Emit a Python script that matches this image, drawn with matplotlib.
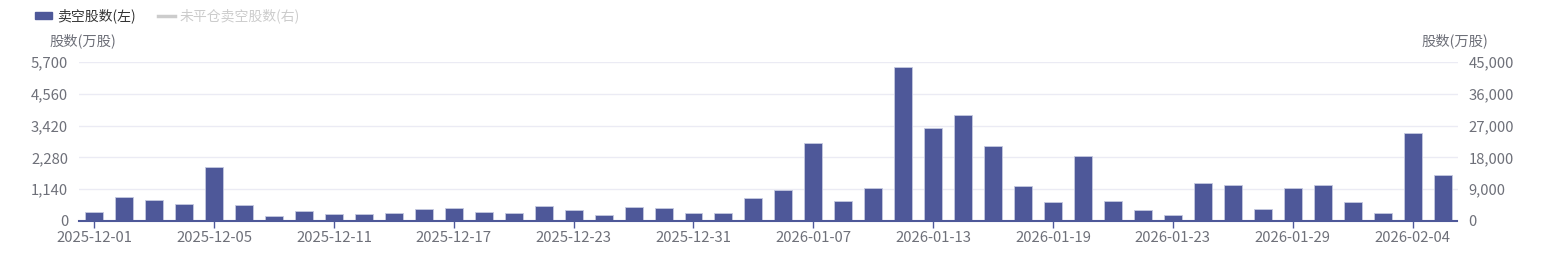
import matplotlib
matplotlib.use("Agg")
import matplotlib.pyplot as plt
from matplotlib.patches import Rectangle
from matplotlib.lines import Line2D
import numpy as np

plt.rcParams['font.family'] = ['Noto Sans CJK SC', 'DejaVu Sans']

dates = [
    '2025-12-01', '2025-12-02', '2025-12-03', '2025-12-04', '2025-12-05',
    '2025-12-08', '2025-12-09', '2025-12-10', '2025-12-11', '2025-12-12',
    '2025-12-15', '2025-12-16', '2025-12-17', '2025-12-18', '2025-12-19',
    '2025-12-22', '2025-12-23', '2025-12-24', '2025-12-29', '2025-12-30',
    '2025-12-31', '2026-01-02', '2026-01-05', '2026-01-06', '2026-01-07',
    '2026-01-08', '2026-01-09', '2026-01-12', '2026-01-13', '2026-01-14',
    '2026-01-15', '2026-01-16', '2026-01-19', '2026-01-20', '2026-01-21',
    '2026-01-22', '2026-01-23', '2026-01-26', '2026-01-27', '2026-01-28',
    '2026-01-29', '2026-01-30', '2026-02-02', '2026-02-03', '2026-02-04',
    '2026-02-05',
]
short_shares = [
    336, 864, 756, 624, 1920, 588, 168, 348, 252, 240,
    288, 444, 468, 336, 288, 528, 396, 228, 492, 468,
    276, 300, 840, 1128, 2784, 720, 1176, 5532, 3336, 3792,
    2676, 1248, 672, 2328, 708, 408, 204, 1356, 1308, 444,
    1176, 1296, 672, 300, 3156, 1644,
]
left_ticks = [0, 1140, 2280, 3420, 4560, 5700]
right_ticks = [0, 9000, 18000, 27000, 36000, 45000]

bar_color = '#4e5899'
text_color = '#6e7079'
grid_color = '#ebebf4'
fs = 10.7

fig = plt.figure(figsize=(15.61, 2.54), dpi=100)
ax = fig.add_axes([79.3 / 1561, 33 / 254, (1457.5 - 79.3) / 1561, 159 / 254])
x = np.arange(len(dates))
ax.bar(x, short_shares, width=0.6, color=bar_color, edgecolor='#c5c9e0', linewidth=0.6, zorder=3)
ax.set_xlim(-0.5, len(dates) - 0.5)
ax.set_ylim(0, left_ticks[-1])
ax.set_yticks(left_ticks)
ax.set_yticklabels([f'{v:,}' for v in left_ticks])
ax.grid(axis='y', color=grid_color, linewidth=1, zorder=0)

ax.set_xticks(x[::4])
ax.set_xticklabels([dates[i] for i in x[::4]])

for s in ['top', 'right', 'left']:
    ax.spines[s].set_visible(False)
ax.spines['bottom'].set_color(bar_color)
ax.spines['bottom'].set_linewidth(1.5)
ax.spines['bottom'].set_zorder(4)
ax.tick_params(axis='x', colors=bar_color, labelcolor=text_color, labelsize=fs, length=5, width=1, pad=2)
ax.tick_params(axis='y', length=0, labelcolor=text_color, labelsize=fs, pad=8)

ax2 = ax.twinx()
ax2.set_ylim(0, right_ticks[-1])
ax2.set_yticks(right_ticks)
ax2.set_yticklabels([f'{v:,}' for v in right_ticks])
for s in ['top', 'right', 'left', 'bottom']:
    ax2.spines[s].set_visible(False)
ax2.tick_params(axis='y', length=0, labelcolor=text_color, labelsize=fs, pad=8)

fig.text(50 / 1561, 1 - 41 / 254, '股数(万股)', color=text_color, fontsize=10.3, va='center', ha='left')
fig.text(1488 / 1561, 1 - 41 / 254, '股数(万股)', color=text_color, fontsize=10.3, va='center', ha='right')

# legend
fig.patches.append(Rectangle((35 / 1561, 1 - 19 / 254), 17 / 1561, 7 / 254,
                             transform=fig.transFigure, color=bar_color))
fig.text(57 / 1561, 1 - 15.5 / 254, '卖空股数(左)', color='#333333', fontsize=10, va='center')
fig.lines.append(Line2D([158 / 1561, 175 / 1561], [1 - 15.5 / 254, 1 - 15.5 / 254],
                        transform=fig.transFigure, color='#cccccc', linewidth=2.5))
fig.text(180 / 1561, 1 - 15.5 / 254, '未平仓卖空股数(右)', color='#cccccc', fontsize=10, va='center')

fig.savefig('out.png', dpi=100)
